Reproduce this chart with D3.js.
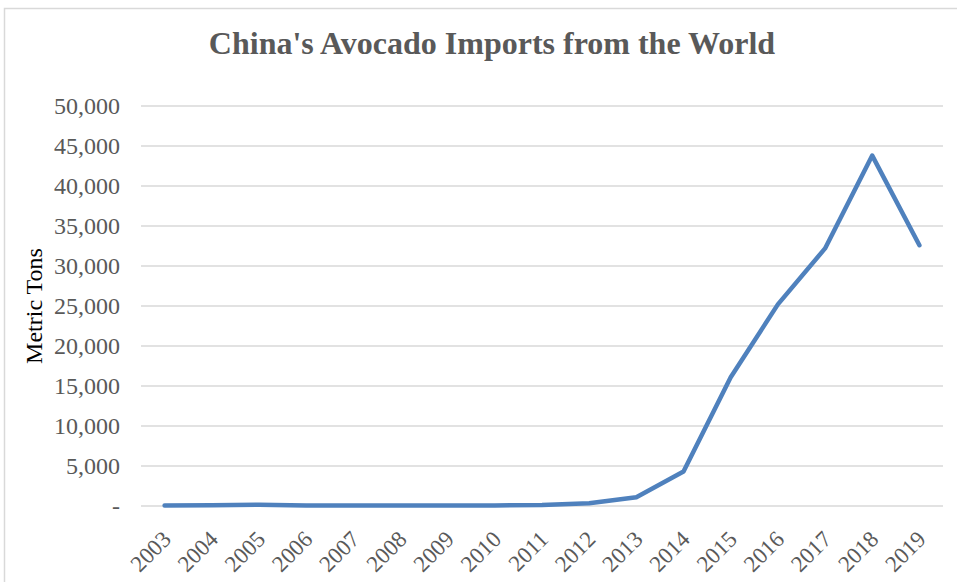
<!DOCTYPE html>
<html>
<head>
<meta charset="utf-8">
<script src="https://cdn.jsdelivr.net/npm/d3@7"></script>
<style>
  body { margin: 0; background: #fff; }
  svg text { font-family: "Liberation Serif", "Times New Roman", serif; fill: #595959; }
</style>
</head>
<body>
<div class="chart"></div>
<script>
const width = 957;
const height = 582;

const years = ['2003', '2004', '2005', '2006', '2007', '2008', '2009', '2010', '2011',
  '2012', '2013', '2014', '2015', '2016', '2017', '2018', '2019'];
const imports = [60, 80, 150, 60, 60, 70, 60, 70, 130, 350, 1100, 4300, 16100, 25200, 32200, 43800, 32600];
const yTicks = [0, 5000, 10000, 15000, 20000, 25000, 30000, 35000, 40000, 45000, 50000];

const margin = { top: 106, right: 14, bottom: 76, left: 141 };

const svg = d3.select('.chart').append('svg')
  .attr('width', width)
  .attr('height', height);

// chart frame
svg.append('rect')
  .attr('x', 4.5).attr('y', 8.5)
  .attr('width', width + 10).attr('height', height + 10)
  .attr('fill', 'none').attr('stroke', '#d9d9d9').attr('stroke-width', 1.5);

const scaleX = d3.scaleBand()
  .domain(years)
  .range([margin.left, width - margin.right]);

const scaleY = d3.scaleLinear()
  .domain([0, 50000])
  .range([height - margin.bottom, margin.top]);

// gridlines
svg.append('g').selectAll('line')
  .data(yTicks)
  .join('line')
  .attr('x1', margin.left).attr('x2', width - margin.right)
  .attr('y1', (d) => { return scaleY(d); })
  .attr('y2', (d) => { return scaleY(d); })
  .attr('stroke', '#d9d9d9').attr('stroke-width', 1.3);

// y tick labels
const fmt = d3.format(',');
svg.append('g').selectAll('text')
  .data(yTicks)
  .join('text')
  .attr('x', 120)
  .attr('y', (d) => { return scaleY(d); })
  .attr('dy', '0.35em')
  .attr('text-anchor', 'end')
  .attr('font-size', 24)
  .text((d) => { return d === 0 ? '-' : fmt(d); });

// x tick labels
svg.append('g').selectAll('text')
  .data(years)
  .join('text')
  .attr('transform', (d) => {
    return 'translate(' + (scaleX(d) + scaleX.bandwidth() / 2 + 2) + ',' + (scaleY(0) + 29) + ') rotate(-45)';
  })
  .attr('text-anchor', 'end')
  .attr('dy', '0.35em')
  .attr('font-size', 23)
  .text((d) => { return d; });

// axis title
svg.append('text')
  .attr('transform', 'translate(34,' + 306 + ') rotate(-90)')
  .attr('text-anchor', 'middle')
  .attr('dy', '0.35em')
  .attr('font-size', 24)
  .style('fill', '#000')
  .text('Metric Tons');

// chart title
svg.append('text')
  .attr('x', 492).attr('y', 54)
  .attr('text-anchor', 'middle')
  .attr('font-size', 32)
  .attr('font-weight', 'bold')
  .text("China's Avocado Imports from the World");

const line = d3.line()
  .x((d, i) => { return scaleX(years[i]) + scaleX.bandwidth() / 2; })
  .y((d) => { return scaleY(d); });

svg.append('path')
  .attr('d', line(imports))
  .attr('fill', 'none')
  .attr('stroke', '#4f81bd')
  .attr('stroke-width', 4.5)
  .attr('stroke-linejoin', 'round')
  .attr('stroke-linecap', 'round');
</script>
</body>
</html>
